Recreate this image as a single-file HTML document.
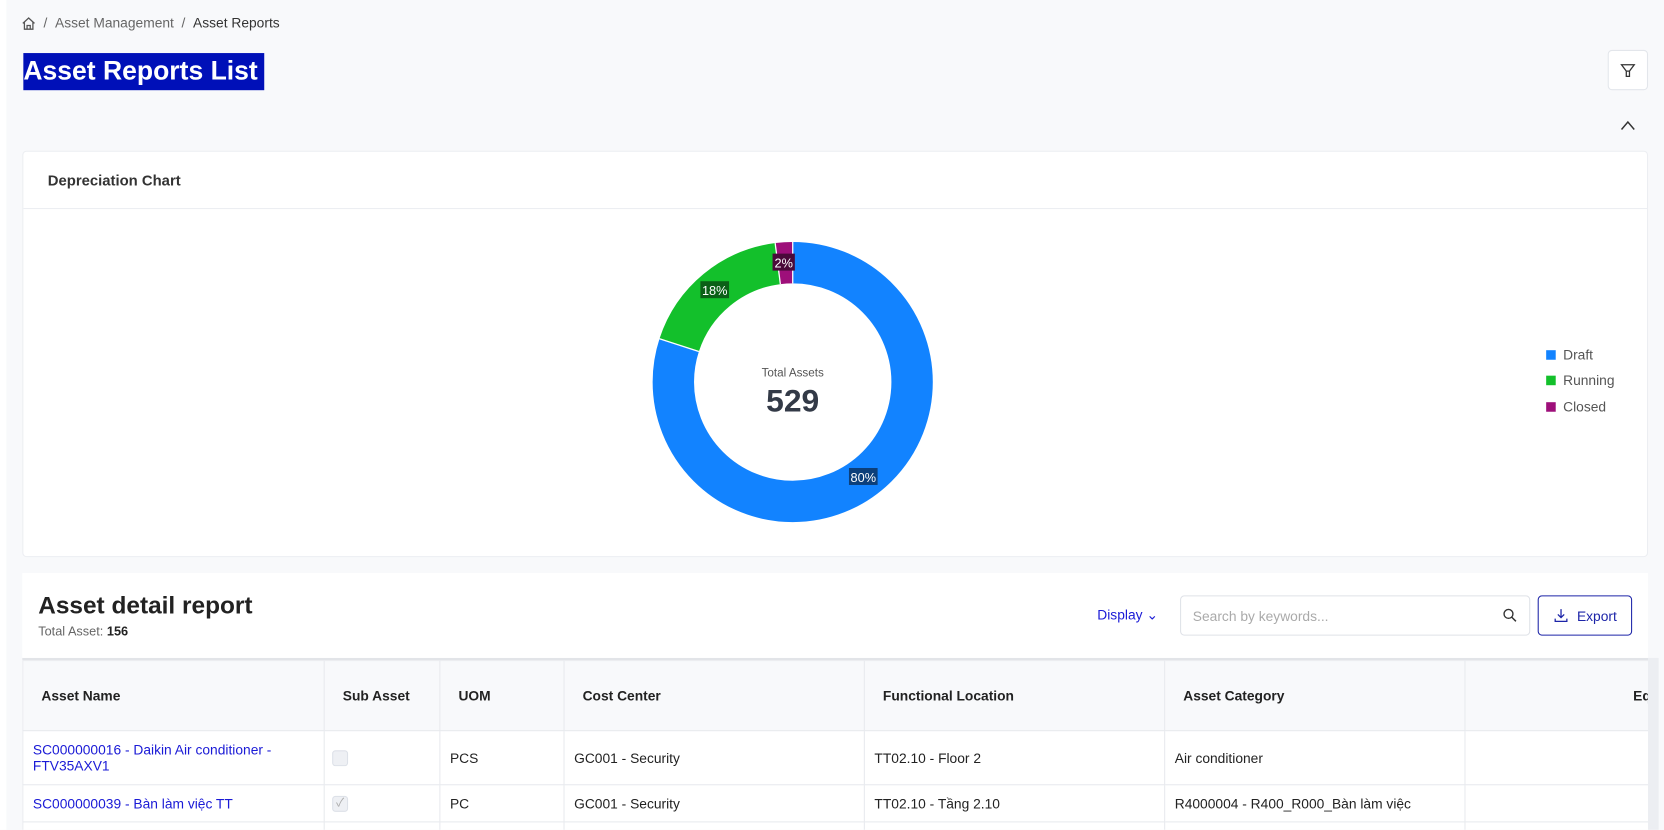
<!DOCTYPE html>
<html><head><meta charset="utf-8"><style>
*{box-sizing:border-box;margin:0;padding:0}
html,body{width:1664px;height:829px;overflow:hidden;background:#f8f9fb}
#w{position:absolute;left:0;top:0;width:1568px;height:782px;transform:scale(1.0612);transform-origin:0 0;font-family:"Liberation Sans","Noto Sans CJK SC",sans-serif;color:#222;overflow:hidden}
.abs{position:absolute}
.card{position:absolute;background:#fff;border:1px solid #eceef2;border-radius:4px}
table{border-collapse:collapse;position:absolute;left:0;top:0;table-layout:fixed;font-size:13px;width:1559px}
td,th{border:1px solid #e8eaee;text-align:left;vertical-align:middle}
th{background:#f8f9fb;height:66px;font-weight:bold;font-size:13px;color:#222;padding-left:17px}
td{padding-left:9px;color:#222}
a{color:#1a1ad6;text-decoration:none}
.cb{width:15px;height:15px;border:1px solid #dde1e8;border-radius:3px;background:#eef0f4;margin-left:-1px}
</style></head><body><div id="w">
<div class="abs" style="left:0;top:0;width:6px;height:782px;background:#fff"></div>
<svg class="abs" style="left:20px;top:15px" width="14" height="14" viewBox="0 0 14 14"><path d="M1.5 7 L7 2 L12.5 7 M3 6 V12.5 H11 V6 M5.5 12.5 V9 H8.5 V12.5" fill="none" stroke="#555" stroke-width="1.2"/></svg>
<div class="abs" style="left:41px;top:14px;font-size:13px;color:#666">/&nbsp;&nbsp;Asset Management&nbsp;&nbsp;/&nbsp;&nbsp;<span style="color:#333">Asset Reports</span></div>
<div class="abs" style="left:22px;top:50px;height:35px;width:227px;background:#0010b8;color:#fff;font-weight:bold;font-size:25px;line-height:34px;padding-left:0px;white-space:nowrap;overflow:hidden">Asset Reports List</div>
<div class="abs" style="left:1515px;top:47px;width:38px;height:38px;background:#fff;border:1px solid #e3e6eb;border-radius:4px"></div>
<svg class="abs" style="left:1526px;top:58px" width="16" height="16"><path d="M2 3 H14 L9.5 9 V14 H6.5 V9 Z M6.5 9 H9.5" fill="none" stroke="#333" stroke-width="1.2"/></svg>
<svg class="abs" style="left:1526px;top:112px" width="16" height="12"><path d="M2 10 L8 3 L14 10" fill="none" stroke="#333" stroke-width="1.4"/></svg>

<div class="card" style="left:21px;top:142px;width:1532px;height:383px">
<div style="height:54px;border-bottom:1px solid #eceef2;padding:19px 0 0 23px;font-size:14px;font-weight:bold;color:#333">Depreciation Chart</div>
</div>
<svg class="abs" style="left:0;top:0" width="1568" height="540">
<g transform="translate(747,360) rotate(-90)">
<circle r="112.5" fill="none" stroke="#1283ff" stroke-width="39" stroke-dasharray="565.5 800" />
<circle r="112.5" fill="none" stroke="#13c02b" stroke-width="39" stroke-dasharray="0 565.5 127.2 800" />
<circle r="112.5" fill="none" stroke="#9e0f7a" stroke-width="39" stroke-dasharray="0 692.7 14.2 800" />
<line x1="93" y1="0" x2="132" y2="0" stroke="#fff" stroke-width="1.2"/>
<line x1="93" y1="0" x2="132" y2="0" stroke="#fff" stroke-width="1.2" transform="rotate(288)"/>
<line x1="93" y1="0" x2="132" y2="0" stroke="#fff" stroke-width="1.2" transform="rotate(352.8)"/>
</g>
<rect x="800" y="441" width="27" height="16" fill="#0c3f7a"/><text x="813.5" y="454" font-size="12" fill="#fff" text-anchor="middle" font-family="Liberation Sans">80%</text>
<rect x="660" y="265" width="27" height="16" fill="#0b6017"/><text x="673.5" y="278" font-size="12" fill="#fff" text-anchor="middle" font-family="Liberation Sans">18%</text>
<rect x="728" y="239" width="21" height="16" fill="#4a0a3a"/><text x="738.5" y="252" font-size="12" fill="#fff" text-anchor="middle" font-family="Liberation Sans">2%</text>
<text x="747" y="355" font-size="11" fill="#555" text-anchor="middle" font-family="Liberation Sans">Total Assets</text>
<text x="747" y="388" font-size="30" font-weight="bold" fill="#333a47" text-anchor="middle" font-family="Liberation Sans">529</text>
<rect x="1457" y="330" width="9" height="9" fill="#1283ff"/><text x="1473" y="339" font-size="13" fill="#555" font-family="Liberation Sans">Draft</text>
<rect x="1457" y="354" width="9" height="9" fill="#13c02b"/><text x="1473" y="363" font-size="13" fill="#555" font-family="Liberation Sans">Running</text>
<rect x="1457" y="379" width="9" height="9" fill="#9e0f7a"/><text x="1473" y="388" font-size="13" fill="#555" font-family="Liberation Sans">Closed</text>
</svg>

<div class="abs" style="left:21px;top:540px;width:1532px;height:242px;background:#fff"></div>
<div class="abs" style="left:36px;top:557px;font-size:23px;font-weight:bold;color:#222">Asset detail report</div>
<div class="abs" style="left:36px;top:588px;font-size:12px;color:#666">Total Asset: <b style="color:#222">156</b></div>
<div class="abs" style="left:1034px;top:572px;font-size:13px;color:#1a1ad6">Display &#8964;</div>
<div class="abs" style="left:1112px;top:561px;width:330px;height:38px;border:1px solid #dfe2e8;border-radius:4px;font-size:13px;color:#aaa;padding:11px 0 0 11px">Search by keywords...</div>
<svg class="abs" style="left:1416px;top:573px" width="14" height="14"><circle cx="5.5" cy="5.5" r="4.2" fill="none" stroke="#333" stroke-width="1.3"/><path d="M8.5 8.5 L12.5 12.5" stroke="#333" stroke-width="1.4"/></svg>
<div class="abs" style="left:1449px;top:561px;width:89px;height:38px;border:1px solid #1c24a8;border-radius:4px;font-size:13px;color:#1c24a8;padding:11px 0 0 36px">Export</div>
<svg class="abs" style="left:1464px;top:573px" width="14" height="14"><path d="M7 1 V9 M4 6 L7 9 L10 6 M1.5 10 V12.5 H12.5 V10" fill="none" stroke="#1c24a8" stroke-width="1.2"/></svg>

<div class="abs" style="left:21px;top:620px;width:1532px;height:162px;overflow:hidden;border-top:2px solid #e2e4e8">
<table>
<colgroup><col style="width:284px"><col style="width:109px"><col style="width:117px"><col style="width:283px"><col style="width:283px"><col style="width:283px"><col style="width:200px"></colgroup>
<tr><th>Asset Name</th><th>Sub Asset</th><th>UOM</th><th>Cost Center</th><th>Functional Location</th><th>Asset Category</th><th style="padding-left:158px;white-space:nowrap">Eq</th></tr>
<tr style="height:51px"><td><a>SC000000016 - Daikin Air conditioner -<br>FTV35AXV1</a></td><td style="padding-left:8px"><div class="cb"></div></td><td>PCS</td><td>GC001 - Security</td><td>TT02.10 - Floor 2</td><td>Air conditioner</td><td></td></tr>
<tr style="height:35px"><td><a>SC000000039 - Bàn làm việc TT</a></td><td style="padding-left:8px"><div class="cb" style="color:#aaa;font-size:11px;line-height:13px;text-align:center">✓</div></td><td>PC</td><td>GC001 - Security</td><td>TT02.10 - Tầng 2.10</td><td>R4000004 - R400_R000_Bàn làm việc</td><td></td></tr>
<tr style="height:40px"><td></td><td></td><td></td><td></td><td></td><td></td><td></td></tr>
</table>
</div>
<div class="abs" style="left:1553px;top:620px;width:10px;height:162px;background:#eceef2"></div>
</div></body></html>
